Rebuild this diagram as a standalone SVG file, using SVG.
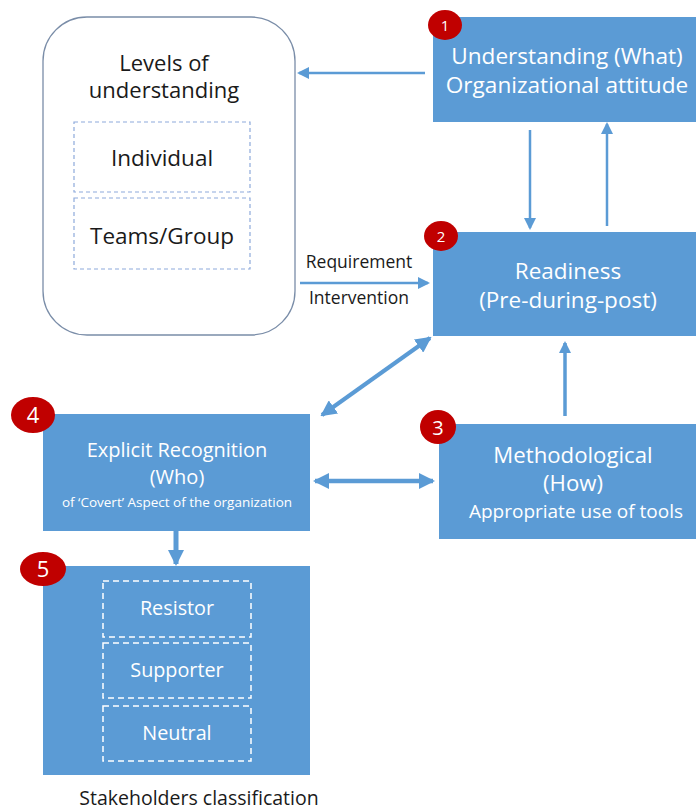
<svg xmlns="http://www.w3.org/2000/svg" width="696" height="810" viewBox="0 0 696 810">
<style>
.box{fill:#5B9BD5;}
.wt{fill:#FFFFFF;font-family:"Open Sans","Noto Sans",sans-serif;text-anchor:middle;}
.dk{fill:#1A1A1A;font-family:"Open Sans","Noto Sans",sans-serif;text-anchor:middle;}
.badge{fill:#C00000;}
.bt{fill:#FFFFFF;font-family:"Open Sans","Noto Sans",sans-serif;text-anchor:middle;}
.dashb{fill:none;stroke:#8EAADB;stroke-width:1.2;stroke-dasharray:4 3;}
.dashw{fill:none;stroke:#FFFFFF;stroke-width:1.5;stroke-dasharray:6 4;}
.ln{stroke:#5B9BD5;fill:none;}
</style>
<defs>
<marker id="ah" markerUnits="userSpaceOnUse" markerWidth="12" markerHeight="12" refX="10" refY="6" orient="auto">
<path d="M0,0 L12,6 L0,12 Z" fill="#5B9BD5"/>
</marker>
<marker id="ahb" markerUnits="userSpaceOnUse" markerWidth="16" markerHeight="16" refX="14" refY="8" orient="auto-start-reverse">
<path d="M0,0 L16,8 L0,16 Z" fill="#5B9BD5"/>
</marker>
</defs>

<g id="connectors">
<line class="ln" x1="425" y1="73" x2="299" y2="73" stroke-width="2.5" marker-end="url(#ah)"/>
<line class="ln" x1="530" y1="130" x2="530" y2="228" stroke-width="2.5" marker-end="url(#ah)"/>
<line class="ln" x1="607" y1="226" x2="607" y2="124" stroke-width="2.5" marker-end="url(#ah)"/>
<line class="ln" x1="300" y1="283" x2="428" y2="283" stroke-width="2.5" marker-end="url(#ah)"/>
<line class="ln" x1="565" y1="416" x2="565" y2="343" stroke-width="3.5" marker-end="url(#ah)"/>
<line class="ln" x1="322" y1="415" x2="430" y2="338" stroke-width="4" marker-start="url(#ahb)" marker-end="url(#ahb)"/>
<line class="ln" x1="315" y1="481" x2="433" y2="481" stroke-width="4.5" marker-start="url(#ahb)" marker-end="url(#ahb)"/>
<line class="ln" x1="176" y1="531" x2="176" y2="564" stroke-width="5" marker-end="url(#ahb)"/>
<text class="dk" x="359" y="268" font-size="17.5">Requirement</text>
<text class="dk" x="359" y="304" font-size="17.5">Intervention</text>
</g>

<g id="levels">
<rect x="43" y="17" width="252" height="318" rx="44" ry="44" fill="#FFFFFF" stroke="#7A8DA8" stroke-width="1.3"/>
<text class="dk" x="164" y="71" font-size="22">Levels of</text>
<text class="dk" x="164" y="98" font-size="22">understanding</text>
<rect class="dashb" x="74" y="122" width="176" height="70"/>
<text class="dk" x="162" y="166" font-size="22.5">Individual</text>
<rect class="dashb" x="74" y="198" width="176" height="71"/>
<text class="dk" x="162" y="244" font-size="22.5">Teams/Group</text>
</g>

<g id="node1">
<rect class="box" x="433" y="17" width="263" height="105"/>
<text class="wt" x="567" y="64" font-size="22.6">Understanding (What)</text>
<text class="wt" x="567" y="93" font-size="22.6">Organizational attitude</text>
<ellipse class="badge" cx="445" cy="25" rx="17" ry="15"/>
<text class="bt" x="445" y="31" font-size="15">1</text>
</g>

<g id="node2">
<rect class="box" x="433" y="232" width="263" height="104"/>
<text class="wt" x="568" y="279" font-size="22.5">Readiness</text>
<text class="wt" x="568" y="308" font-size="22.5">(Pre-during-post)</text>
<ellipse class="badge" cx="441" cy="236" rx="17" ry="15"/>
<text class="bt" x="441" y="242" font-size="15">2</text>
</g>

<g id="node3">
<rect class="box" x="439" y="424" width="257" height="115"/>
<text class="wt" x="573" y="463" font-size="22.2">Methodological</text>
<text class="wt" x="573" y="491" font-size="22.2">(How)</text>
<text class="wt" x="576" y="518" font-size="19">Appropriate use of tools</text>
<ellipse class="badge" cx="438" cy="427" rx="18" ry="17"/>
<text class="bt" x="438" y="435" font-size="20">3</text>
</g>

<g id="node4">
<rect class="box" x="43" y="414" width="267" height="117"/>
<text class="wt" x="177" y="457" font-size="20">Explicit Recognition</text>
<text class="wt" x="177" y="484" font-size="20">(Who)</text>
<text class="wt" x="177" y="507" font-size="13.5">of ‘Covert’ Aspect of the organization</text>
<ellipse class="badge" cx="33" cy="415" rx="22" ry="18"/>
<text class="bt" x="33" y="423" font-size="22">4</text>
</g>

<g id="node5">
<rect class="box" x="43" y="566" width="267" height="209"/>
<rect class="dashw" x="103" y="581" width="148" height="56"/>
<text class="wt" x="177" y="615" font-size="19.8">Resistor</text>
<rect class="dashw" x="103" y="643" width="148" height="55"/>
<text class="wt" x="177" y="677" font-size="19.8">Supporter</text>
<rect class="dashw" x="103" y="706" width="148" height="55"/>
<text class="wt" x="177" y="740" font-size="19.8">Neutral</text>
<ellipse class="badge" cx="43" cy="569" rx="23" ry="17"/>
<text class="bt" x="43" y="577" font-size="22">5</text>
<text class="dk" x="199" y="805" font-size="19.5">Stakeholders classification</text>
</g>
</svg>
